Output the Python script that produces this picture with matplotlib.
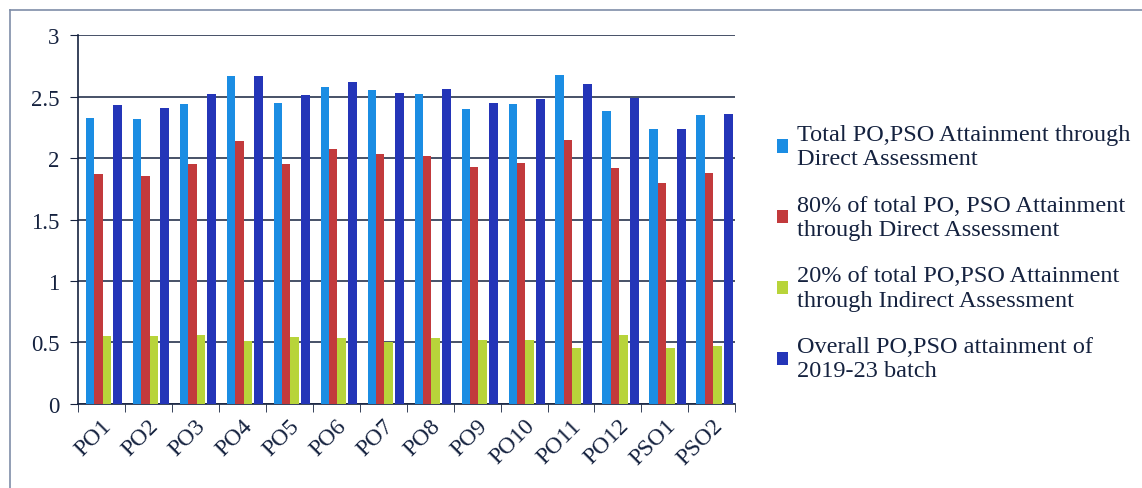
import matplotlib
matplotlib.use('Agg')
import matplotlib.pyplot as plt
import numpy as np
from matplotlib.lines import Line2D

plt.rcParams['font.family'] = ['Liberation Serif', 'DejaVu Serif']

outcomes = ['PO1', 'PO2', 'PO3', 'PO4', 'PO5', 'PO6', 'PO7', 'PO8', 'PO9', 'PO10', 'PO11', 'PO12', 'PSO1', 'PSO2']
direct_total = [2.33, 2.32, 2.44, 2.67, 2.45, 2.58, 2.55, 2.52, 2.40, 2.44, 2.68, 2.38, 2.24, 2.35]
direct_80 = [1.87, 1.855, 1.955, 2.14, 1.955, 2.07, 2.03, 2.02, 1.93, 1.96, 2.15, 1.92, 1.80, 1.88]
indirect_20 = [0.555, 0.555, 0.56, 0.515, 0.545, 0.54, 0.50, 0.54, 0.52, 0.52, 0.455, 0.56, 0.457, 0.47]
overall = [2.43, 2.41, 2.52, 2.67, 2.51, 2.62, 2.53, 2.56, 2.45, 2.48, 2.60, 2.49, 2.24, 2.36]

labels = ['Total PO,PSO Attainment through\nDirect Assessment',
          '80% of total PO, PSO Attainment\nthrough Direct Assessment',
          '20% of total PO,PSO Attainment\nthrough Indirect Assessment',
          'Overall PO,PSO attainment of\n2019-23 batch']
colors = ['#1b8de3', '#c23a3c', '#b8d43a', '#2435b8']
navy = '#15223f'

fig = plt.figure(figsize=(11.42, 4.89), dpi=100)
ax = fig.add_axes([0.068, 0.172, 0.576, 0.754])

x = np.arange(len(outcomes))
w = 0.18
series = [direct_total, direct_80, indirect_20, overall]
for i, (vals, c, lab) in enumerate(zip(series, colors, labels)):
    offset = -0.33 + w / 2 + i * w
    if i == 3:
        offset += 0.05
    ax.bar(x + offset, vals, width=w, color=c, label=lab, zorder=3)

ax.set_xlim(-0.5, len(outcomes) - 0.5)
ax.set_ylim(0, 3)
ax.set_yticks(np.arange(0, 3.01, 0.5))
ax.set_yticklabels(['0', '0.5', '1', '1.5', '2', '2.5', '3'])
ax.yaxis.grid(True, color=navy, linewidth=1.1, zorder=0)

ax.set_xticks(x)
ax.set_xticklabels(outcomes, rotation=45, ha='right', rotation_mode='anchor')
ax.set_xticks(np.arange(-0.5, len(outcomes), 1), minor=True)
ax.tick_params(axis='x', which='major', length=0, pad=8, labelsize=17, colors=navy)
ax.tick_params(axis='x', which='minor', length=6, color=navy, direction='out')
ax.tick_params(axis='y', length=6, color=navy, labelsize=16.5, colors=navy, pad=7)

for s in ['top', 'right']:
    ax.spines[s].set_visible(False)
for s in ['left', 'bottom']:
    ax.spines[s].set_color(navy)
    ax.spines[s].set_linewidth(1.2)

leg = ax.legend(loc='center left', bbox_to_anchor=(1.03, 0.41), frameon=False,
                fontsize=17.5, handlelength=0.45, handleheight=0.45, handletextpad=0.35,
                labelspacing=1.05, labelcolor=navy)
for t in leg.get_texts():
    t.set_linespacing(1.2)

# outer chart frame from the scanned page
fig.add_artist(Line2D([0.009, 0.009], [0.0, 0.978], color='#7f8ea8', linewidth=1.2))
fig.add_artist(Line2D([0.009, 1.0], [0.978, 0.978], color='#7f8ea8', linewidth=1.2))

fig.savefig('out.png', dpi=100)
